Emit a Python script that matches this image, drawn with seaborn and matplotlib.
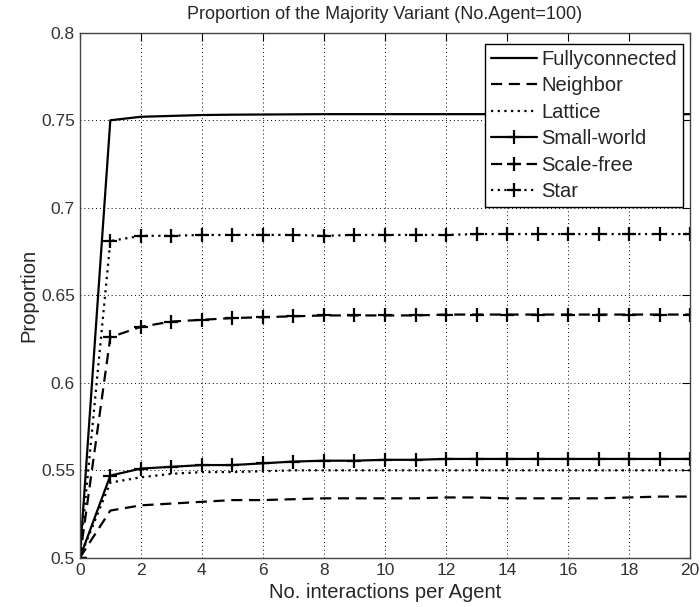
import numpy as np
import pandas as pd
import matplotlib
matplotlib.use("Agg")
import matplotlib.pyplot as plt
import seaborn as sns

x = list(range(0, 21))
fully = [0.5, 0.750, 0.752, 0.7525, 0.753, 0.7532, 0.7533, 0.7534, 0.7535, 0.7535, 0.7535,
         0.7535, 0.7535, 0.7535, 0.7535, 0.7535, 0.7535, 0.7535, 0.7535, 0.7535, 0.7535]
neighbor = [0.5, 0.527, 0.530, 0.531, 0.532, 0.533, 0.533, 0.5335, 0.534, 0.534, 0.534,
            0.534, 0.5345, 0.5345, 0.534, 0.534, 0.534, 0.534, 0.5345, 0.535, 0.535]
lattice = [0.5, 0.543, 0.546, 0.548, 0.549, 0.549, 0.5495, 0.550, 0.550, 0.550, 0.550,
           0.550, 0.550, 0.550, 0.550, 0.550, 0.550, 0.550, 0.550, 0.550, 0.550]
small = [0.5, 0.547, 0.551, 0.552, 0.553, 0.553, 0.554, 0.555, 0.5555, 0.5555, 0.556,
         0.556, 0.5565, 0.5565, 0.5565, 0.5565, 0.5565, 0.5565, 0.5565, 0.5565, 0.5565]
scalefree = [0.5, 0.626, 0.632, 0.635, 0.636, 0.637, 0.6375, 0.638, 0.6385, 0.6385, 0.6385,
             0.6385, 0.639, 0.639, 0.639, 0.639, 0.639, 0.639, 0.639, 0.639, 0.639]
star = [0.5, 0.681, 0.684, 0.684, 0.6845, 0.6845, 0.6845, 0.6845, 0.684, 0.6845, 0.6845,
        0.6845, 0.6845, 0.685, 0.685, 0.685, 0.685, 0.685, 0.685, 0.685, 0.685]
names = ["Fullyconnected", "Neighbor", "Lattice", "Small-world", "Scale-free", "Star"]
series = [fully, neighbor, lattice, small, scalefree, star]
xticks = list(range(0, 21, 2))
yticks = [0.5, 0.55, 0.6, 0.65, 0.7, 0.75, 0.8]
yticklabels = ["0.5", "0.55", "0.6", "0.65", "0.7", "0.75", "0.8"]

sns.set_style("white")
plt.rcParams["font.family"] = ["Liberation Sans", "DejaVu Sans"]

fig = plt.figure(figsize=(7, 6.07), dpi=100)
ax = fig.add_axes([0.114, 0.081, 0.872, 0.865])

styles = [
    ("-", "None"),
    ((0, (5, 3)), "None"),
    ((0, (1, 2)), "None"),
    ("-", "+"),
    ((0, (5, 3)), "+"),
    ((0, (1, 2)), "+"),
]
for name, vals in zip(names, series):
    df = pd.DataFrame({"x": x, "y": vals})
    sns.lineplot(data=df, x="x", y="y", ax=ax, color="black", linewidth=1.6, label=name)

for line, (ls, mk) in zip(ax.lines, styles):
    line.set_linestyle(ls)
    line.set_marker(mk)
    line.set_markersize(10)
    line.set_markeredgewidth(1.6)
    line.set_markeredgecolor("black")

ax.set_xlim(0, 20)
ax.set_ylim(0.5, 0.8)
ax.set_xticks(xticks)
ax.set_yticks(yticks)
ax.set_yticklabels(yticklabels)
ax.grid(True, color="black", linestyle=(0, (1, 3)), linewidth=0.7)
ax.tick_params(direction="in", top=True, right=True, length=6, width=0.8,
               labelsize=12.5, colors="black")
ax.tick_params(axis="both", labelcolor="#333333")
for sp in ax.spines.values():
    sp.set_color("#444444")
    sp.set_linewidth(1.0)
ax.set_xlabel("No. interactions per Agent", fontsize=14.5, labelpad=4)
ax.set_ylabel("Proportion", fontsize=14.5, labelpad=2)
ax.set_title("Proportion of the Majority Variant (No.Agent=100)", fontsize=13, pad=10)

leg = ax.legend(loc="upper right", bbox_to_anchor=(0.9885, 0.979), fontsize=14.5,
                frameon=True, fancybox=False, edgecolor="black", framealpha=1,
                handlelength=2.3, handletextpad=0.2, borderpad=0.3,
                labelspacing=0.37, borderaxespad=0.0)
leg.get_frame().set_linewidth(1.0)

fig.savefig("out.png", dpi=100)
